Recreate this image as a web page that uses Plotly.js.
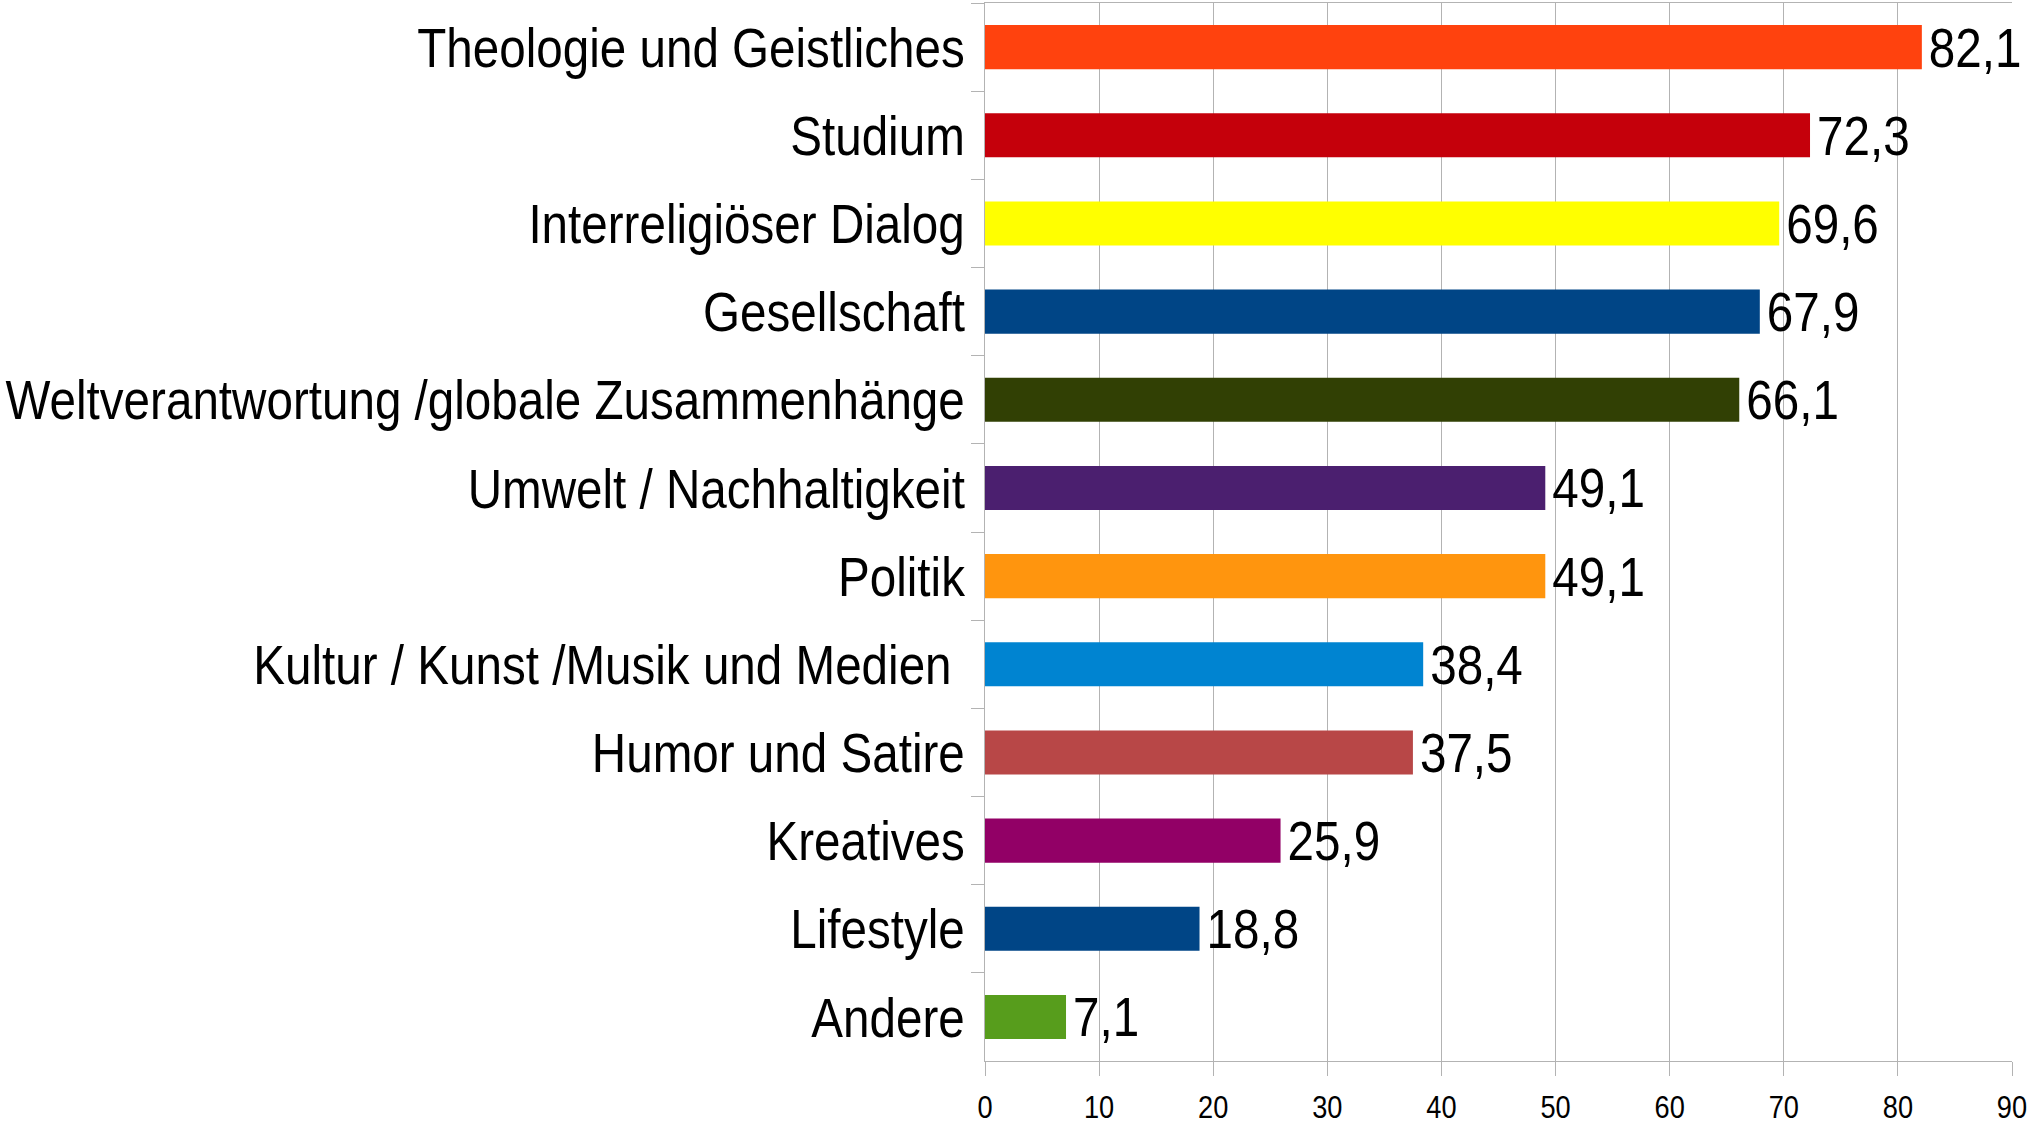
<!DOCTYPE html>
<html>
<head>
<meta charset="utf-8">
<script src="https://cdn.plot.ly/plotly-3.0.1.min.js"></script>
<style>
  html, body { margin: 0; padding: 0; background: #ffffff; }
  #chart { width: 2029px; height: 1127px; }
</style>
</head>
<body>
<div id="chart"></div>
<script>
const categories = [
  "Theologie und Geistliches",
  "Studium",
  "Interreligiöser Dialog",
  "Gesellschaft",
  "Weltverantwortung /globale Zusammenhänge",
  "Umwelt / Nachhaltigkeit",
  "Politik",
  "Kultur / Kunst /Musik und Medien\u00a0",
  "Humor und Satire",
  "Kreatives",
  "Lifestyle",
  "Andere"
];
const values = [82.1, 72.3, 69.6, 67.9, 66.1, 49.1, 49.1, 38.4, 37.5, 25.9, 18.8, 7.1];
const barColors = [
  "#FF420E", "#C5000B", "#FFFF00", "#004586", "#314004", "#4B1F6F",
  "#FF950E", "#0084D1", "#B84747", "#920066", "#004586", "#579D1C"
];
const xTicks = [0, 10, 20, 30, 40, 50, 60, 70, 80, 90];

const FONT = "'Liberation Sans', Arial, sans-serif";
const NARROW = 0.85; // horizontal condensing, to imitate a narrow face
const labels = values.map(v => v.toFixed(1).replace('.', ','));

const trace = {
  type: 'bar',
  orientation: 'h',
  y: categories,
  x: values,
  marker: { color: barColors, line: { width: 0 } },
  text: labels,
  textposition: 'outside',
  constraintext: 'none',
  cliponaxis: false,
  textfont: { family: FONT, size: 56, color: '#000000' },
  hoverinfo: 'skip'
};

const layout = {
  width: 2029,
  height: 1127,
  margin: { l: 985, r: 17, t: 3, b: 66, pad: 0 },
  paper_bgcolor: '#ffffff',
  plot_bgcolor: '#ffffff',
  showlegend: false,
  bargap: 0.5,
  font: { family: FONT, color: '#000000' },
  xaxis: {
    range: [0, 90],
    tickvals: xTicks,
    ticktext: xTicks.map(String),
    showgrid: true,
    gridcolor: '#b3b3b3',
    gridwidth: 1,
    zeroline: false,
    showline: true,
    linecolor: '#b3b3b3',
    linewidth: 1,
    mirror: true,
    ticks: 'outside',
    ticklen: 14,
    tickcolor: '#b3b3b3',
    tickwidth: 1,
    ticklabelstandoff: 4,
    ticklabeloverflow: 'allow',
    tickfont: { family: FONT, size: 32, color: '#000000' },
    fixedrange: true
  },
  yaxis: {
    type: 'category',
    categoryorder: 'array',
    categoryarray: categories,
    autorange: 'reversed',
    showgrid: false,
    zeroline: false,
    showline: true,
    linecolor: '#b3b3b3',
    linewidth: 1,
    ticks: 'outside',
    tickson: 'boundaries',
    ticklen: 13,
    tickcolor: '#b3b3b3',
    tickwidth: 1,
    ticklabelstandoff: 8,
    ticklabeloverflow: 'allow',
    tickfont: { family: FONT, size: 56, color: '#000000' },
    automargin: false,
    fixedrange: true
  }
};

function condense(sel, mode, shift) {
  document.querySelectorAll(sel).forEach(function (t) {
    const b = t.getBBox();
    let ax;
    if (mode === 'right') ax = b.x + b.width;
    else if (mode === 'left') ax = b.x;
    else ax = b.x + b.width / 2;
    const prev = t.getAttribute('transform') || '';
    t.setAttribute('transform',
      prev + ' translate(' + (shift || 0) + ',0) translate(' + ax + ',0) scale(' + NARROW + ',1) translate(' + (-ax) + ',0)');
  });
}

Plotly.newPlot('chart', [trace], layout, { displayModeBar: false, staticPlot: true }).then(function () {
  condense('.ytick text', 'right', 0);
  condense('.xtick text', 'center', 0);
  condense('.bartext', 'left', 4);
});
</script>
</body>
</html>
